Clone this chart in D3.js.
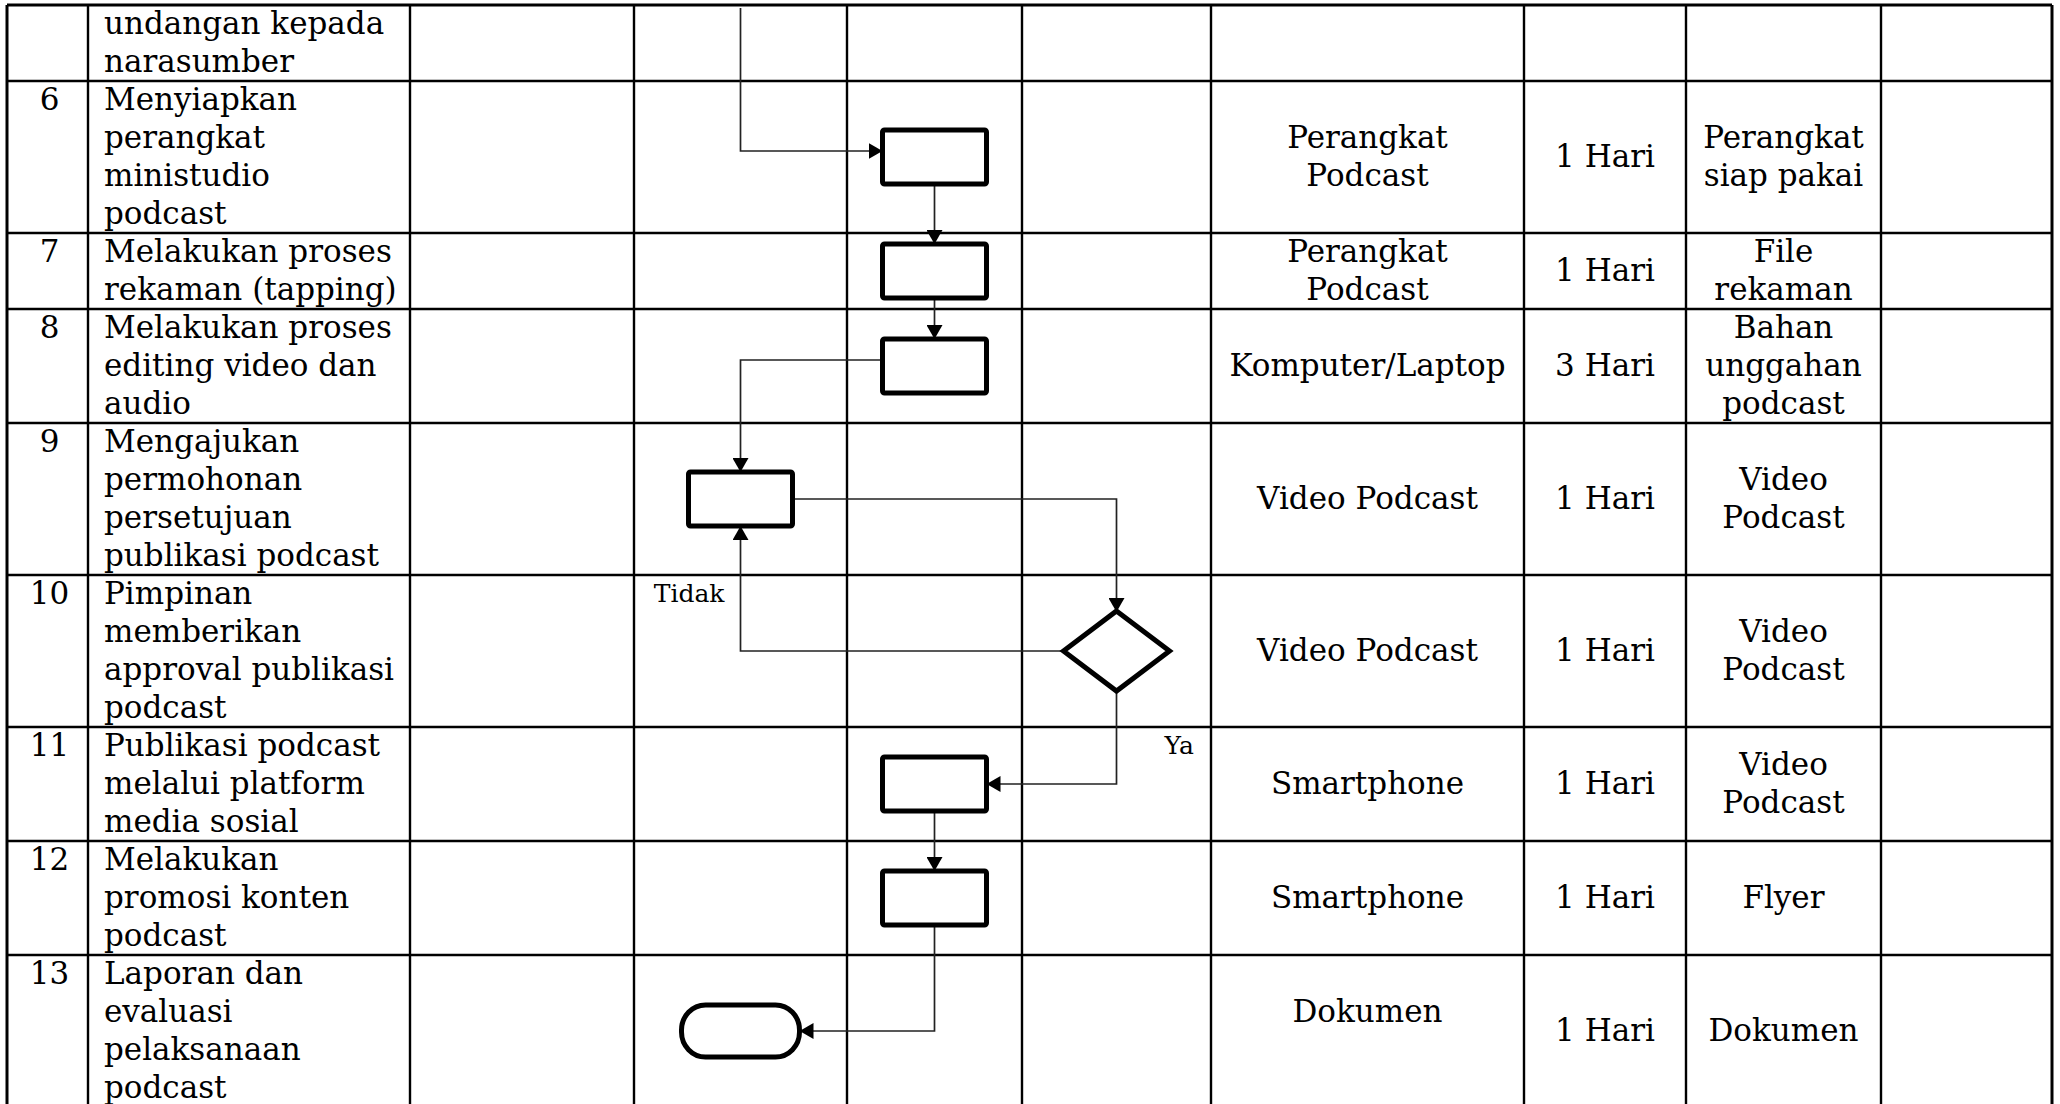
<!DOCTYPE html>
<html><head><meta charset="utf-8">
<script src="https://cdn.jsdelivr.net/npm/d3@7"></script>
<style>html,body{margin:0;padding:0;background:#fff;} svg{display:block;}</style>
</head><body><svg id="chart" width="2060" height="1104"></svg>
<script>
// ---------- DATA ----------
const stepNumbers = ["", "6", "7", "8", "9", "10", "11", "12", "13"];
const activities = [
  ["undangan kepada", "narasumber"],
  ["Menyiapkan", "perangkat", "ministudio", "podcast"],
  ["Melakukan proses", "rekaman (tapping)"],
  ["Melakukan proses", "editing video dan", "audio"],
  ["Mengajukan", "permohonan", "persetujuan", "publikasi podcast"],
  ["Pimpinan", "memberikan", "approval publikasi", "podcast"],
  ["Publikasi podcast", "melalui platform", "media sosial"],
  ["Melakukan", "promosi konten", "podcast"],
  ["Laporan dan", "evaluasi", "pelaksanaan", "podcast"]
];
const equipment = [[], ["Perangkat", "Podcast"], ["Perangkat", "Podcast"], ["Komputer/Laptop"],
  ["Video Podcast"], ["Video Podcast"], ["Smartphone"], ["Smartphone"], ["Dokumen", ""]];
const durations = ["", "1 Hari", "1 Hari", "3 Hari", "1 Hari", "1 Hari", "1 Hari", "1 Hari", "1 Hari"];
const outputs = [[], ["Perangkat", "siap pakai"], ["File", "rekaman"], ["Bahan", "unggahan", "podcast"],
  ["Video", "Podcast"], ["Video", "Podcast"], ["Video", "Podcast"], ["Flyer"], ["Dokumen"]];
const notes = ["", "", "", "", "", "", "", "", ""];

// flowchart: lane = index of the actor column (0..3)
const flowNodes = [
  { id: "s6", step: "6", lane: 2, type: "process" },
  { id: "s7", step: "7", lane: 2, type: "process" },
  { id: "s8", step: "8", lane: 2, type: "process" },
  { id: "s9", step: "9", lane: 1, type: "process" },
  { id: "s10", step: "10", lane: 3, type: "decision" },
  { id: "s11", step: "11", lane: 2, type: "process" },
  { id: "s12", step: "12", lane: 2, type: "process" },
  { id: "s13", step: "13", lane: 1, type: "terminator" }
];
const flowEdges = [
  { from: null, to: "s6", route: "entry", label: "" },
  { from: "s6", to: "s7", route: "down", label: "" },
  { from: "s7", to: "s8", route: "down", label: "" },
  { from: "s8", to: "s9", route: "left-down", label: "" },
  { from: "s9", to: "s10", route: "right-down", label: "" },
  { from: "s10", to: "s9", route: "left-up", label: "Tidak" },
  { from: "s10", to: "s11", route: "down-left", label: "Ya" },
  { from: "s11", to: "s12", route: "down", label: "" },
  { from: "s12", to: "s13", route: "down-left", label: "" }
];

// ---------- LAYOUT ----------
const W = 2060, H = 1104;
const FONT = "'DejaVu Serif', serif";
const FS = 31, LINE = 38;
const colWidths = [81, 322, 224, 213, 175, 189, 313, 162, 195, 171];
const x0 = 7, y0 = 5;
const colEdges = [x0, ...d3.cumsum(colWidths).map(c => x0 + c)];
const laneCols = [2, 3, 4, 5];

const rowLines = activities.map((a, i) => Math.max(a.length, equipment[i].length, outputs[i].length, 1));
const cumLines = [0, ...d3.cumsum(rowLines)];
const y = d3.scaleLinear().domain([0, 1]).range([y0, y0 + LINE]);
const rowTop = i => y(cumLines[i]);
const rowBot = i => y(cumLines[i + 1]);
const rowMid = i => (rowTop(i) + rowBot(i)) / 2;
const colMid = c => (colEdges[c] + colEdges[c + 1]) / 2;

const svg = d3.select("#chart");
svg.append("rect").attr("width", W).attr("height", H).attr("fill", "#fff");

// ---- table grid ----
const grid = svg.append("g").attr("stroke", "#000").attr("stroke-width", 2.6);
grid.selectAll("line.v").data(colEdges).join("line")
  .attr("x1", d => d).attr("x2", d => d).attr("y1", y0).attr("y2", rowBot(activities.length - 1))
  .attr("stroke-width", (d, i) => (i === 0 || i === colEdges.length - 1) ? 3 : 2.4);
grid.selectAll("line.h").data(d3.range(activities.length + 1)).join("line")
  .attr("x1", x0).attr("x2", colEdges[colEdges.length - 1])
  .attr("y1", i => y(cumLines[i])).attr("y2", i => y(cumLines[i]))
  .attr("stroke-width", i => i === 0 ? 3 : 2.6);

// ---- text ----
const txt = svg.append("g").attr("font-family", FONT).attr("font-size", FS).attr("fill", "#000");
txt.selectAll("text.num").data(stepNumbers).join("text")
  .attr("x", colMid(0) + 2).attr("y", (d, i) => rowTop(i) + 29).attr("text-anchor", "middle").text(d => d);
activities.forEach((lines, i) => {
  txt.append("text").selectAll("tspan").data(lines).join("tspan")
    .attr("x", colEdges[1] + 16).attr("y", (d, k) => rowTop(i) + 29 + k * LINE).text(d => d);
});
function centered(col, arr) {
  arr.forEach((v, i) => {
    const lines = Array.isArray(v) ? v : (v ? [v] : []);
    if (!lines.length) return;
    const top = rowMid(i) - lines.length * LINE / 2;
    txt.append("text").attr("text-anchor", "middle").selectAll("tspan").data(lines).join("tspan")
      .attr("x", colMid(col)).attr("y", (d, k) => top + 29 + k * LINE).text(d => d);
  });
}
centered(6, equipment);
centered(7, durations);
centered(8, outputs);
centered(9, notes);

// ---- flowchart ----
const stepIndex = s => stepNumbers.indexOf(s);
const size = { process: [104, 54], decision: [106, 80], terminator: [118, 52] };
const nodes = new Map();
flowNodes.forEach(n => {
  const [w, h] = size[n.type];
  const cx = colMid(laneCols[n.lane]), cy = rowMid(stepIndex(n.step));
  nodes.set(n.id, Object.assign({}, n, { cx, cy, w, h,
    left: cx - w / 2, right: cx + w / 2, top: cy - h / 2, bottom: cy + h / 2 }));
});

const defs = svg.append("defs");
defs.append("marker").attr("id", "arr").attr("markerUnits", "userSpaceOnUse")
  .attr("markerWidth", 14).attr("markerHeight", 16).attr("viewBox", "0 0 14 16")
  .attr("refX", 13).attr("refY", 8).attr("orient", "auto")
  .append("path").attr("d", "M0,0 L14,8 L0,16 Z").attr("fill", "#000");

const edgesG = svg.append("g").attr("fill", "none").attr("stroke", "#222").attr("stroke-width", 1.7);
const labelsG = svg.append("g").attr("font-family", FONT).attr("font-size", 25).attr("fill", "#000");
flowEdges.forEach(e => {
  const t = nodes.get(e.to), s = e.from ? nodes.get(e.from) : null;
  const p = d3.path();
  if (e.route === "entry") {
    const sx = colMid(laneCols[1]);
    p.moveTo(sx, y0 + 3); p.lineTo(sx, t.cy - 6); p.lineTo(t.left - 1, t.cy - 6);
  } else if (e.route === "down") {
    p.moveTo(s.cx, s.bottom); p.lineTo(s.cx, t.top - 1);
  } else if (e.route === "left-down") {
    p.moveTo(s.left, s.cy - 6); p.lineTo(t.cx, s.cy - 6); p.lineTo(t.cx, t.top - 1);
  } else if (e.route === "right-down") {
    p.moveTo(s.right, s.cy); p.lineTo(t.cx, s.cy); p.lineTo(t.cx, t.top);
  } else if (e.route === "left-up") {
    p.moveTo(s.left, s.cy); p.lineTo(t.cx, s.cy); p.lineTo(t.cx, t.bottom + 1);
  } else if (e.route === "down-left") {
    p.moveTo(s.cx, s.bottom); p.lineTo(s.cx, t.cy); p.lineTo(t.right + 1, t.cy);
  }
  edgesG.append("path").attr("d", p.toString()).attr("marker-end", "url(#arr)");
  if (e.label) {
    if (e.route === "left-up") {
      labelsG.append("text").attr("x", t.cx - 16).attr("y", rowTop(stepIndex(s.step)) + 27)
        .attr("text-anchor", "end").text(e.label);
    } else {
      labelsG.append("text").attr("x", s.cx + 48).attr("y", rowTop(stepIndex(t.step)) + 27)
        .attr("text-anchor", "start").text(e.label);
    }
  }
});

const nodesG = svg.append("g").attr("fill", "#fff").attr("stroke", "#000").attr("stroke-width", 5);
nodes.forEach(n => {
  if (n.type === "process") {
    nodesG.append("rect").attr("x", n.left).attr("y", n.top).attr("width", n.w).attr("height", n.h).attr("rx", 2);
  } else if (n.type === "terminator") {
    nodesG.append("rect").attr("x", n.left).attr("y", n.top).attr("width", n.w).attr("height", n.h)
      .attr("rx", 24).attr("ry", 25);
  } else if (n.type === "decision") {
    nodesG.append("polygon").attr("points",
      [[n.cx, n.top], [n.right, n.cy], [n.cx, n.bottom], [n.left, n.cy]].map(d => d.join(",")).join(" "));
  }
});
</script>
</body></html>
